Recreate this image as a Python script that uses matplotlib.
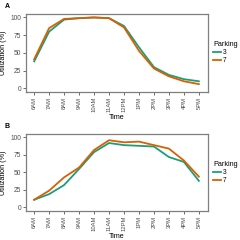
import numpy as np
from matplotlib import pyplot as plt

plt.rcParams['font.family'] = ['Liberation Sans', 'DejaVu Sans']

times = ["6AM", "7AM", "8AM", "9AM", "10AM", "11AM", "12PM", "1PM", "2PM", "3PM", "4PM", "5PM"]
parking = ["3", "7"]

# panel A
utilA_3 = [38, 80, 97, 99, 100, 99, 88, 58, 30, 19, 13, 10]
utilA_7 = [41, 85, 98, 99, 100, 99, 86, 53, 28, 17, 10, 6]

# panel B
utilB_3 = [11, 19, 32, 55, 79, 92, 89, 88, 87, 72, 65, 38]
utilB_7 = [11, 24, 43, 57, 82, 96, 93, 94, 89, 84, 67, 44]

colors = ["#1B9E77", "#D95F02"]

fig = plt.figure(figsize=(2.4, 2.4), dpi=100)

def drawPanel(rect, s3, s7, tag):
    ax = fig.add_axes(rect)
    x = np.arange(len(times))
    ax.plot(x, s3, color=colors[0], lw=1.3, label=parking[0])
    ax.plot(x, s7, color=colors[1], lw=1.3, label=parking[1])
    ax.set_xlim(-0.55, len(times) - 0.4)
    ax.set_ylim(-5, 105)
    ax.set_xticks(x)
    ax.set_xticklabels(times, rotation=90, fontsize=4.2, color="#4D4D4D")
    ax.set_yticks([0, 25, 50, 75, 100])
    ax.set_yticklabels(["0", "25", "50", "75", "100"], fontsize=4.8, color="#4D4D4D")
    ax.tick_params(length=2, width=0.5, color="#333333", pad=1.5)
    for sp in ax.spines.values():
        sp.set_color("#7F7F7F")
        sp.set_linewidth(0.9)
    ax.set_xlabel("Time", fontsize=5.2, labelpad=1.5)
    ax.set_ylabel("Utilization (%)", fontsize=5.2, labelpad=2.5)
    leg = ax.legend(title="Parking", loc="center left", bbox_to_anchor=(1.0, 0.5),
                    frameon=False, fontsize=4.8, title_fontsize=5.2,
                    handlelength=1.2, handletextpad=0.3, labelspacing=0.15, borderaxespad=0.4)
    leg._legend_box.align = "left"
    fig.text(0.02, rect[1] + rect[3] + 0.025, tag, fontsize=5, fontweight="bold")
    return ax

drawPanel([0.108, 0.617, 0.758, 0.325], utilA_3, utilA_7, "A")
drawPanel([0.108, 0.121, 0.758, 0.321], utilB_3, utilB_7, "B")

fig.savefig("out.png", dpi=100)
